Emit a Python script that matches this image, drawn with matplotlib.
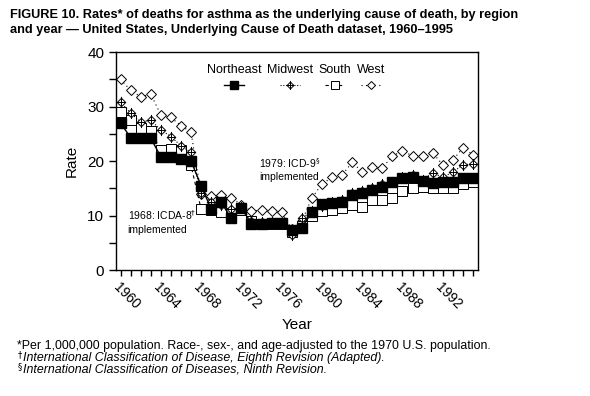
import numpy as np
import matplotlib
matplotlib.use("Agg")
import matplotlib.pyplot as plt
from matplotlib.path import Path
from matplotlib.offsetbox import VPacker

plt.rcParams['font.family'] = ['Liberation Sans', 'DejaVu Sans']

# Données (taux pour 1 000 000)
annees = list(range(1960, 1996))
northeast = [27.0, 24.3, 24.2, 24.2, 20.8, 20.8, 20.4, 20.0, 15.5, 11.2,
             12.4, 9.5, 11.4, 8.5, 8.4, 8.6, 8.6, 7.3, 7.8, 10.6,
             12.2, 12.3, 12.5, 13.8, 14.1, 14.7, 15.2, 16.1, 16.9, 17.0,
             16.4, 16.0, 16.1, 16.2, 16.9, 16.9]
midwest = [30.8, 28.8, 27.2, 27.5, 25.7, 24.5, 22.8, 21.6, 14.1, 12.5,
           12.0, 11.2, 11.6, 9.0, 8.8, 8.8, 8.6, 6.5, 9.5, 10.8,
           11.8, 12.5, 12.8, 14.1, 14.5, 15.0, 15.8, 16.1, 17.0, 17.4,
           16.6, 17.8, 17.0, 18.0, 19.3, 19.5]
south = [29.0, 27.5, 26.0, 25.5, 22.0, 22.2, 22.0, 19.2, 11.2, 11.0,
         10.6, 10.5, 11.0, 9.0, 8.5, 8.4, 8.4, 7.0, 8.0, 10.0,
         10.8, 11.0, 11.4, 11.9, 11.6, 12.8, 12.8, 13.3, 14.5, 15.0,
         15.2, 15.0, 15.0, 15.0, 15.8, 16.1]
west = [35.0, 33.0, 31.8, 32.3, 28.5, 28.0, 26.5, 25.3, 14.0, 13.5,
        13.8, 13.2, 12.0, 10.8, 11.0, 10.8, 10.6, 7.5, 9.0, 13.2,
        15.8, 17.0, 17.4, 19.8, 18.0, 19.0, 18.7, 21.0, 21.8, 21.0,
        21.0, 21.5, 19.3, 20.2, 22.4, 21.2]
regions = ["Northeast", "Midwest", "South", "West"]
ticks_annees = list(range(1960, 1996, 4))

# Marqueur losange + croix pour le Midwest
verts = [(0, 1), (1, 0), (0, -1), (-1, 0), (0, 1),
         (0, 1.3), (0, -1.3), (-1, 0), (1, 0)]
codes = [Path.MOVETO, Path.LINETO, Path.LINETO, Path.LINETO, Path.CLOSEPOLY,
         Path.MOVETO, Path.LINETO, Path.MOVETO, Path.LINETO]
marqueur_mw = Path(verts, codes)

fig = plt.figure(figsize=(5.9, 3.96), dpi=100)
ax = fig.add_axes([0.1966, 0.318, 0.6136, 0.5505])

l_w, = ax.plot(annees, west, linestyle=(0, (1, 3)), color='black', lw=0.8,
               marker='D', markersize=5.5, markerfacecolor='white',
               markeredgecolor='black', markeredgewidth=0.7)
l_s, = ax.plot(annees, south, linestyle=(0, (3, 3)), color='black', lw=0.8,
               marker='s', markersize=7, markerfacecolor='white',
               markeredgecolor='black', markeredgewidth=0.7)
l_mw, = ax.plot(annees, midwest, linestyle=(0, (1, 1.5)), color='black', lw=0.8,
                marker=marqueur_mw, markersize=8, markerfacecolor='white',
                markeredgecolor='black', markeredgewidth=0.7)
l_ne, = ax.plot(annees, northeast, linestyle='-', color='black', lw=1.0,
                marker='s', markersize=7, markerfacecolor='black',
                markeredgecolor='black')

ax.set_xlim(1959.55, 1995.5)
ax.set_ylim(0, 40)
ax.set_yticks([0, 10, 20, 30, 40])
ax.set_yticks([5, 15, 25, 35], minor=True)
ax.set_xticks(ticks_annees)
ax.set_xticks(annees, minor=True)
ax.set_xticklabels([str(a) for a in ticks_annees], rotation=-45, ha='left',
                   va='top', rotation_mode='anchor', fontsize=10)
ax.tick_params(axis='y', which='both', direction='out', length=5, width=1,
               labelsize=11)
ax.tick_params(axis='x', which='both', direction='out', length=4, width=1)
for s in ax.spines.values():
    s.set_linewidth(1)

ax.set_ylabel("Rate", fontsize=11, labelpad=6)
ax.set_xlabel("Year", fontsize=11, labelpad=4)

ax.text(1960.7, 11.3, "1968: ICDA-8$^{\\dagger}$\nimplemented", fontsize=7.5,
        va='top', ha='left', linespacing=1.3)
ax.text(1973.8, 20.9, "1979: ICD-9$^{\\S}$\nimplemented", fontsize=7.5,
        va='top', ha='left', linespacing=1.3)

# Légende : nom au-dessus du symbole
leg = ax.legend([l_ne, l_mw, l_s, l_w], regions, ncol=4, frameon=False,
                loc='upper left', bbox_to_anchor=(0.25, 0.945),
                borderaxespad=0, borderpad=0, handlelength=1.6,
                columnspacing=0.45, fontsize=9, markerscale=0.8)
for colonne in leg._legend_handle_box.get_children():
    enfants = colonne.get_children()
    for i, ligne in enumerate(enfants):
        h, t = ligne.get_children()
        nouveau = VPacker(children=[t, h], align='center', pad=0, sep=3)
        nouveau.set_figure(fig)
        colonne._children[i] = nouveau

fig.text(0.017, 0.977, "FIGURE 10. Rates* of deaths for asthma as the underlying cause of death, by region\n"
         "and year \u2014 United States, Underlying Cause of Death dataset, 1960\u20131995",
         fontsize=9.2, fontweight='bold', va='top', ha='left', linespacing=1.3)

fig.text(0.029, 0.126, "*Per 1,000,000 population. Race-, sex-, and age-adjusted to the 1970 U.S. population.",
         fontsize=8.9, va='center', ha='left')
fig.text(0.029, 0.096, "$^{\\dagger}$", fontsize=8.9, va='center', ha='left')
fig.text(0.039, 0.096, "International Classification of Disease, Eighth Revision (Adapted).",
         fontsize=8.9, va='center', ha='left', style='italic')
fig.text(0.029, 0.066, "$^{\\S}$", fontsize=8.9, va='center', ha='left')
fig.text(0.039, 0.066, "International Classification of Diseases, Ninth Revision.",
         fontsize=8.9, va='center', ha='left', style='italic')

fig.savefig("out.png", dpi=100)
